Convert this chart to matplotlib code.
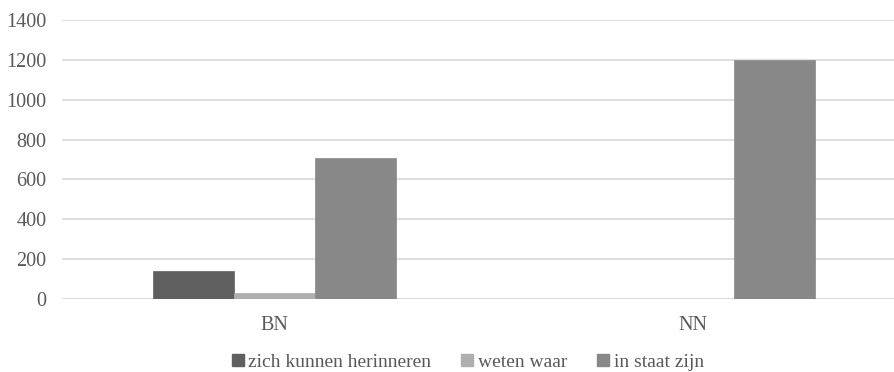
import matplotlib
matplotlib.use("Agg")
import matplotlib.pyplot as plt
import numpy as np
from matplotlib.lines import Line2D
from matplotlib.font_manager import FontProperties

categories = ["BN", "NN"]
series_names = ["zich kunnen herinneren", "weten waar", "in staat zijn"]
herinneren = [140, 0]
weten_waar = [30, 0]
in_staat = [710, 1200]
colors = ["#5f5f5f", "#afafaf", "#888888"]
yticks = [0, 200, 400, 600, 800, 1000, 1200, 1400]

plt.rcParams['font.family'] = ['Liberation Serif', 'DejaVu Serif']
txt = "#595959"

fig = plt.figure(figsize=(8.94, 3.72), dpi=100)
ax = fig.add_axes([62/894, 1-299/372, (900-62)/894, 279/372])

x = np.arange(len(categories))
w = 0.193
data = [herinneren, weten_waar, in_staat]
for i, (vals, c) in enumerate(zip(data, colors)):
    ax.bar(x + (i-1)*w, vals, width=w, color=c, edgecolor=c, linewidth=0.5, zorder=3)

ax.set_xlim(-0.507, 1.493)
ax.set_ylim(0, 1400)
ax.set_yticks(yticks)
ax.set_yticklabels([str(v) for v in yticks])
ax.set_xticks(x)
ax.set_xticklabels(categories)
ax.yaxis.grid(True, color="#d9d9d9", linewidth=1.2, zorder=0)
ax.set_axisbelow(True)
for s in ax.spines.values():
    s.set_visible(False)
ax.axhline(0, color="#d9d9d9", linewidth=1.2, zorder=1)
ax.tick_params(axis='both', length=0, labelsize=14.5, colors=txt)
ax.tick_params(axis='y', pad=11)
ax.tick_params(axis='x', pad=12)

handles = [Line2D([], [], marker='s', linestyle='none', markersize=9,
                  markerfacecolor=c, markeredgecolor=c) for c in colors]
fp = FontProperties(family='Liberation Serif', size=14)
fig.legend(handles, series_names, loc='center', bbox_to_anchor=(466/894, 1-362/372),
           ncol=3, frameon=False, prop=fp, labelcolor=txt,
           handletextpad=0.05, columnspacing=1.35, handlelength=1.0)

fig.savefig("out.png", dpi=100)
